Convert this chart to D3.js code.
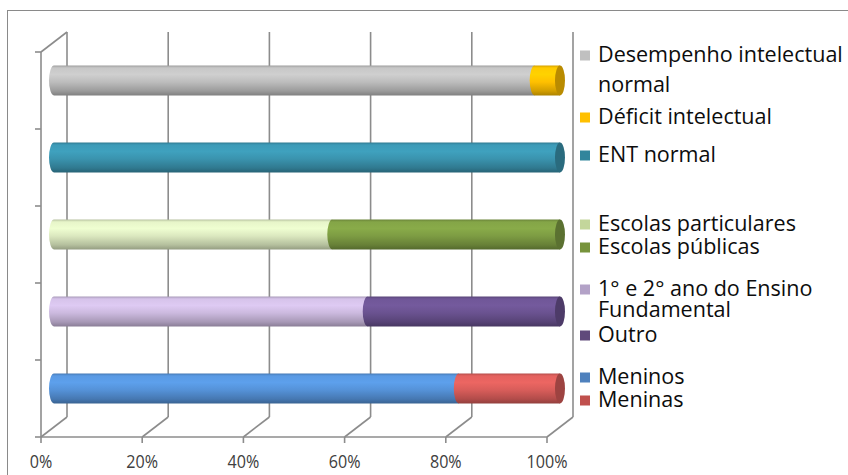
<!DOCTYPE html>
<html>
<head>
<meta charset="utf-8">
<script src="https://cdn.jsdelivr.net/npm/d3@7/dist/d3.min.js"></script>
<style>
  html, body { margin: 0; padding: 0; background: #fff; }
  svg { display: block; }
  text { font-family: "Open Sans", Lato, sans-serif; }
</style>
</head>
<body>
<svg id="chart" width="848" height="475"></svg>
<script>
// Rows of the chart, top to bottom
const categories = ["Desempenho", "ENT", "Escola", "Ano", "Sexo"];
// Share (%) of the first and second part of every row
const firstValues  = [95, 100, 55, 62, 80];
const secondValues = [5, 0, 45, 38, 20];
const firstLabels  = ["Desempenho intelectual\nnormal", "ENT normal", "Escolas particulares", "1° e 2° ano do Ensino\nFundamental", "Meninos"];
const secondLabels = ["Déficit intelectual", null, "Escolas públicas", "Outro", "Meninas"];
const firstColors  = ["#bdbdbd", "#3a93ae", "#dbe8bf", "#cbb9de", "#5592d8"];
const secondColors = ["#ffc000", "#3a93ae", "#7d9c43", "#6a5290", "#d85d5a"];
const firstKeys    = ["#c0c0c0", "#31859c", "#c3d69b", "#b3a2c7", "#4f81bd"];
const secondKeys   = ["#ffc000", "#31859c", "#77933c", "#604a7b", "#c0504d"];
const xTicks = [0, 20, 40, 60, 80, 100];

const svg = d3.select("#chart");
const defs = svg.append("defs");

// horizontal squeeze that makes `sample` at `size` px span `width` px
function squeeze(sample, size, width) {
  const t = svg.append("text").style("font-size", size + "px").text(sample);
  const w = t.node().getComputedTextLength();
  t.remove();
  return width / w;
}

// outer frame
svg.append("rect").attr("x", 7.5).attr("y", 10.5).attr("width", 900).attr("height", 600)
  .attr("fill", "none").attr("stroke", "#8a8a8a").attr("stroke-width", 1);

// 3D layout: front plane plus a receding depth offset
const depthX = 26, depthY = -20;
const x = d3.scaleLinear().domain([0, 100]).range([41, 547]);
const y = d3.scaleBand().domain(categories).range([52, 437]).padding(0);
const gridColor = "#8c8c8c";

const axes = svg.append("g").attr("stroke", gridColor).attr("stroke-width", 1.6).attr("fill", "none");
xTicks.forEach(t => {
  // back-wall vertical gridline
  axes.append("line")
    .attr("x1", x(t) + depthX).attr("x2", x(t) + depthX)
    .attr("y1", y.range()[0] + depthY).attr("y2", y.range()[1] + depthY);
  // floor line to the front
  axes.append("line")
    .attr("x1", x(t) + depthX).attr("y1", y.range()[1] + depthY)
    .attr("x2", x(t)).attr("y2", y.range()[1]);
  // tick below the front edge
  axes.append("line")
    .attr("x1", x(t)).attr("x2", x(t))
    .attr("y1", y.range()[1]).attr("y2", y.range()[1] + 6);
});
// front floor edge
axes.append("line").attr("x1", x(0)).attr("x2", x(100))
  .attr("y1", y.range()[1]).attr("y2", y.range()[1]);
// left (category) axis and its top edge
axes.append("line").attr("x1", x(0)).attr("x2", x(0))
  .attr("y1", y.range()[0]).attr("y2", y.range()[1]);
axes.append("line").attr("x1", x(0)).attr("y1", y.range()[0])
  .attr("x2", x(0) + depthX).attr("y2", y.range()[0] + depthY);
const bounds = categories.map(c => y(c)).concat([y.range()[1]]);
bounds.forEach(b => {
  axes.append("line").attr("x1", x(0) - 6).attr("x2", x(0)).attr("y1", b).attr("y2", b);
});

// x tick labels
const tickSize = 17.5;
const tickSx = squeeze("100%", tickSize, 41);
svg.append("g").attr("fill", "#404040").attr("text-anchor", "middle")
  .style("font-size", tickSize + "px")
  .selectAll("text").data(xTicks).join("text")
  .attr("transform", d => `translate(${x(d)},468) scale(${tickSx},1)`)
  .text(d => d + "%");

// cylinder gradients
function gradient(id, color) {
  const c = d3.color(color);
  const g = defs.append("linearGradient").attr("id", id)
    .attr("x1", 0).attr("x2", 0).attr("y1", 0).attr("y2", 1);
  const stops = [
    [0, c.darker(0.5)], [0.08, c.brighter(0.15)], [0.3, c.brighter(0.25)],
    [0.55, c], [0.85, c.darker(0.55)], [1, c.darker(1.1)]
  ];
  stops.forEach(([o, col]) => g.append("stop").attr("offset", o).attr("stop-color", col.formatHex()));
  return `url(#${id})`;
}

const barHalf = 15, capRx = 5;
const bars = svg.append("g");
categories.forEach((cat, i) => {
  const cy = y(cat) + y.bandwidth() / 2 + depthY / 2;
  const ox = depthX / 2;
  const parts = [
    { v0: 0, v1: firstValues[i], color: firstColors[i] },
    { v0: firstValues[i], v1: firstValues[i] + secondValues[i], color: secondColors[i] }
  ].filter(p => p.v1 > p.v0);
  parts.forEach((p, j) => {
    const fill = gradient(`g${i}_${j}`, p.color);
    const x0 = x(p.v0) + ox, x1 = x(p.v1) + ox;
    // body with a convex left end
    bars.append("path")
      .attr("d", `M${x0},${cy - barHalf} L${x1},${cy - barHalf} L${x1},${cy + barHalf} L${x0},${cy + barHalf} A${capRx},${barHalf} 0 0 1 ${x0},${cy - barHalf} Z`)
      .attr("fill", fill);
    if (j === parts.length - 1) {
      // visible end face
      bars.append("ellipse").attr("cx", x1).attr("cy", cy)
        .attr("rx", capRx).attr("ry", barHalf)
        .attr("fill", d3.color(p.color).darker(0.9).formatHex());
    }
  });
});

// legend, grouped beside each row
const legendX = 598, keyX = 580, keySize = 10;
const legendOffsets = [[-19, 11, 43], [4], [-4, 19], [-16, 5, 30], [-5, 18]];
const legendSize = 22.5;
const legendSx = squeeze("Desempenho intelectual", legendSize, 245);
const legend = svg.append("g").attr("fill", "#0d0d0d");

categories.forEach((cat, i) => {
  const cy = y(cat) + y.bandwidth() / 2 + depthY / 2;
  const offs = legendOffsets[i];
  let k = 0;
  [[firstLabels[i], firstKeys[i]], [secondLabels[i], secondKeys[i]]].forEach(([label, key]) => {
    if (!label) return;
    const base = cy + offs[k];
    legend.append("rect").attr("x", keyX).attr("y", base - keySize - 1)
      .attr("width", keySize).attr("height", keySize).attr("fill", key);
    label.split("\n").forEach(line => {
      legend.append("text")
        .attr("transform", `translate(${legendX},${cy + offs[k]}) scale(${legendSx},1)`)
        .style("font-size", legendSize + "px").text(line);
      k++;
    });
  });
});
</script>
</body>
</html>
